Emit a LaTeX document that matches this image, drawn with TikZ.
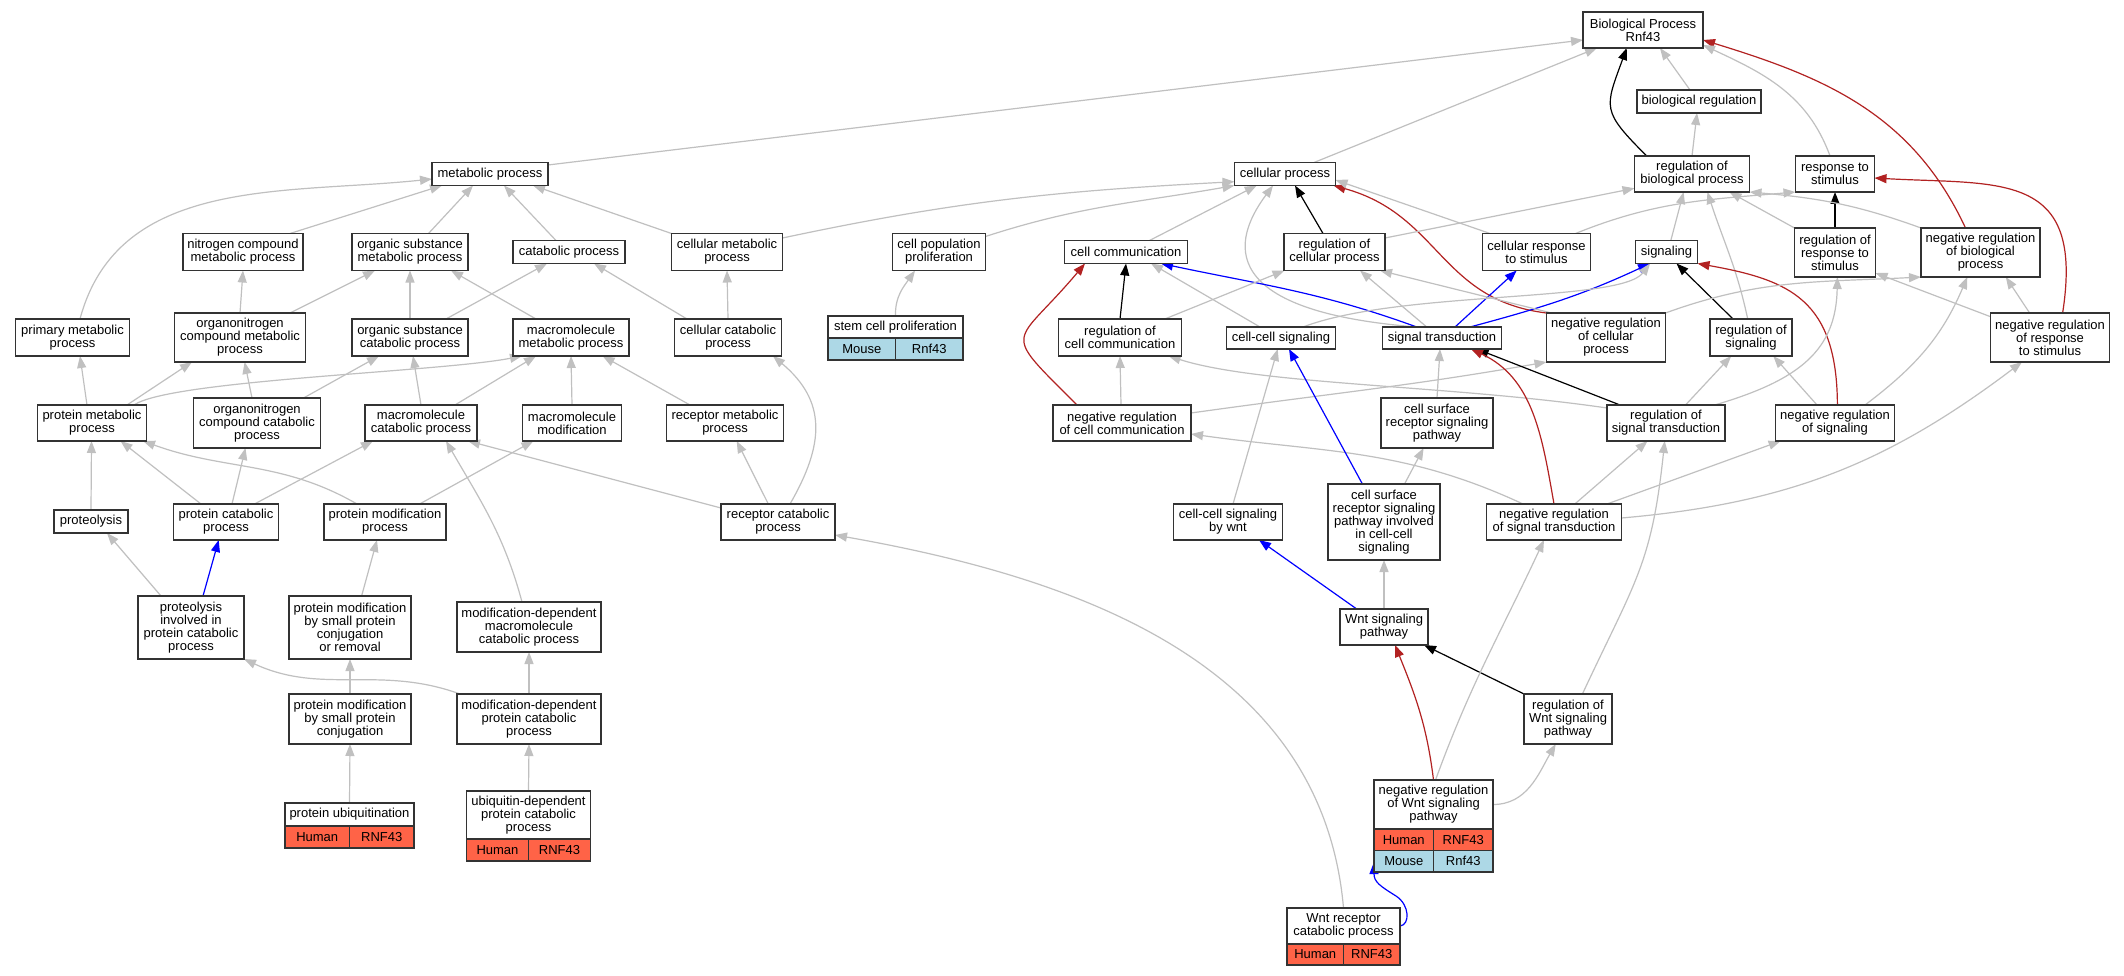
\documentclass[tikz,border=0pt]{standalone}
\usepackage{fontspec}
\setmainfont{Liberation Sans}
\usetikzlibrary{arrows.meta}
\definecolor{edgegray}{HTML}{C0C0C0}
\definecolor{firebrick}{HTML}{B22222}
\definecolor{tomatoc}{HTML}{FF6347}
\definecolor{lblue}{HTML}{ADD8E6}
\newcommand\gofont{\fontsize{13pt}{13pt}\selectfont}
\pgfdeclarelayer{bg}
\pgfsetlayers{bg,main}
\tikzset{
  box/.style={draw=black!80, line width=1.5pt, fill=white, inner sep=0pt, outer sep=0pt, align=center, font=\gofont},
  cellH/.style={box, fill=tomatoc},
  cellM/.style={box, fill=lblue},
  lnk/.style={line width=1.2pt, -{Triangle[length=12pt,width=9pt]}},
  isa/.style={lnk, draw=edgegray},
  po/.style={lnk, draw=blue},
  rg/.style={lnk, draw=black},
  nr/.style={lnk, draw=firebrick},
}
\begin{document}
\begin{tikzpicture}[x=1pt,y=1pt]
\useasboundingbox (0,0) rectangle (2124,-976);
% ---------- nodes ----------
\node[box,minimum width=120pt,minimum height=36pt] (BP) at (1643,-30) {Biological Process\\Rnf43};
\node[box,minimum width=124pt,minimum height=23pt] (breg) at (1699,-101.5) {biological regulation};
\node[box,minimum width=116pt,minimum height=23pt] (MP) at (490,-174) {metabolic process};
\node[box,minimum width=101pt,minimum height=23pt] (CP) at (1285,-174) {cellular process};
\node[box,minimum width=115pt,minimum height=36pt] (rbp) at (1692,-174) {regulation of\\biological process};
\node[box,minimum width=79pt,minimum height=36pt] (rs) at (1835,-174) {response to\\stimulus};
\node[box,minimum width=120pt,minimum height=37pt] (ncmp) at (243,-252) {nitrogen compound\\metabolic process};
\node[box,minimum width=116pt,minimum height=37pt] (osmp) at (410,-252) {organic substance\\metabolic process};
\node[box,minimum width=112pt,minimum height=23pt] (catp) at (569,-252) {catabolic process};
\node[box,minimum width=111pt,minimum height=37pt] (cmp) at (727,-252) {cellular metabolic\\process};
\node[box,minimum width=93pt,minimum height=37pt] (cpp) at (939,-252) {cell population\\proliferation};
\node[box,minimum width=123pt,minimum height=23pt] (cc) at (1126,-252) {cell communication};
\node[box,minimum width=101pt,minimum height=37pt] (rcp) at (1334.5,-252) {regulation of\\cellular process};
\node[box,minimum width=108pt,minimum height=37pt] (crs) at (1536.5,-252) {cellular response\\to stimulus};
\node[box,minimum width=62pt,minimum height=23pt] (sig) at (1666.5,-252) {signaling};
\node[box,minimum width=81pt,minimum height=49pt] (rrs) at (1835,-252.5) {regulation of\\response to\\stimulus};
\node[box,minimum width=119pt,minimum height=49pt] (nrbp) at (1980.5,-252.5) {negative regulation\\of biological\\process};
\node[box,minimum width=114pt,minimum height=37pt] (pmp) at (72.5,-337.5) {primary metabolic\\process};
\node[box,minimum width=131pt,minimum height=49pt] (oncmp) at (240,-337.5) {organonitrogen\\compound metabolic\\process};
\node[box,minimum width=116pt,minimum height=37pt] (oscp) at (410,-337.5) {organic substance\\catabolic process};
\node[box,minimum width=116pt,minimum height=37pt] (mmp) at (571,-337.5) {macromolecule\\metabolic process};
\node[box,minimum width=107pt,minimum height=37pt] (ccp) at (728,-337.5) {cellular catabolic\\process};
\node[box,minimum width=135pt,minimum height=22pt] (scp) at (895.5,-327) {stem cell proliferation};
\node[cellM,minimum width=67.5pt,minimum height=22pt,anchor=north east] (scpM) at (scp.south) {Mouse};
\node[cellM,minimum width=67.5pt,minimum height=22pt,anchor=north west] (scpN) at (scp.south) {Rnf43};
\node[box,minimum width=123pt,minimum height=37pt] (rcc) at (1120,-337.5) {regulation of\\cell communication};
\node[box,minimum width=109pt,minimum height=22pt] (ccs) at (1281,-338) {cell-cell signaling};
\node[box,minimum width=119pt,minimum height=22pt] (st) at (1442,-338) {signal transduction};
\node[box,minimum width=119pt,minimum height=49pt] (nrcp) at (1606,-337.5) {negative regulation\\of cellular\\process};
\node[box,minimum width=82pt,minimum height=37pt] (rsig) at (1751,-337.5) {regulation of\\signaling};
\node[box,minimum width=119pt,minimum height=49pt] (nrrs) at (2050,-337.5) {negative regulation\\of response\\to stimulus};
\node[box,minimum width=109pt,minimum height=36pt] (prmp) at (92,-423) {protein metabolic\\process};
\node[box,minimum width=127pt,minimum height=50pt] (onccp) at (257,-423) {organonitrogen\\compound catabolic\\process};
\node[box,minimum width=112pt,minimum height=36pt] (mcp) at (421,-423) {macromolecule\\catabolic process};
\node[box,minimum width=99pt,minimum height=36pt] (mmod) at (572,-423) {macromolecule\\modification};
\node[box,minimum width=117pt,minimum height=36pt] (rmp) at (725,-423) {receptor metabolic\\process};
\node[box,minimum width=138pt,minimum height=36pt] (nrcc) at (1122,-423) {negative regulation\\of cell communication};
\node[box,minimum width=112pt,minimum height=50pt] (csrsp) at (1437,-423) {cell surface\\receptor signaling\\pathway};
\node[box,minimum width=118pt,minimum height=36pt] (rst) at (1666,-423) {regulation of\\signal transduction};
\node[box,minimum width=119pt,minimum height=36pt] (nrsig) at (1835,-423) {negative regulation\\of signaling};
\node[box,minimum width=74pt,minimum height=23pt] (prot) at (91,-521.5) {proteolysis};
\node[box,minimum width=105pt,minimum height=36pt] (pcp) at (226,-522) {protein catabolic\\process};
\node[box,minimum width=122pt,minimum height=36pt] (pmod) at (385,-522) {protein modification\\process};
\node[box,minimum width=114pt,minimum height=36pt] (rcatp) at (778,-522) {receptor catabolic\\process};
\node[box,minimum width=109pt,minimum height=36pt] (ccsw) at (1228,-522) {cell-cell signaling\\by wnt};
\node[box,minimum width=112pt,minimum height=76pt] (csrspcc) at (1384,-522) {cell surface\\receptor signaling\\pathway involved\\in cell-cell\\signaling};
\node[box,minimum width=135pt,minimum height=36pt] (nrst) at (1554,-522) {negative regulation\\of signal transduction};
\node[box,minimum width=106pt,minimum height=63pt] (picp) at (191,-627.5) {proteolysis\\involved in\\protein catabolic\\process};
\node[box,minimum width=122pt,minimum height=63pt] (pmsr) at (350,-627.5) {protein modification\\by small protein\\conjugation\\or removal};
\node[box,minimum width=144pt,minimum height=50pt] (mdmcp) at (529,-627) {modification-dependent\\macromolecule\\catabolic process};
\node[box,minimum width=88pt,minimum height=36pt] (wsp) at (1384,-627) {Wnt signaling\\pathway};
\node[box,minimum width=122pt,minimum height=50pt] (pmsc) at (350,-719) {protein modification\\by small protein\\conjugation};
\node[box,minimum width=144pt,minimum height=50pt] (mdpcp) at (529,-719) {modification-dependent\\protein catabolic\\process};
\node[box,minimum width=88pt,minimum height=50pt] (rwsp) at (1568,-719) {regulation of\\Wnt signaling\\pathway};
% tables
\node[box,minimum width=129pt,minimum height=23pt] (pubi) at (349.5,-814.5) {protein ubiquitination};
\node[cellH,minimum width=64.5pt,minimum height=22pt,anchor=north east] (pubiH) at (pubi.south) {Human};
\node[cellH,minimum width=64.5pt,minimum height=22pt,anchor=north west] (pubiR) at (pubi.south) {RNF43};
\node[box,minimum width=124pt,minimum height=48pt] (udpcp) at (528.5,-815) {ubiquitin-dependent\\protein catabolic\\process};
\node[cellH,minimum width=62pt,minimum height=22pt,anchor=north east] (udpcpH) at (udpcp.south) {Human};
\node[cellH,minimum width=62pt,minimum height=22pt,anchor=north west] (udpcpR) at (udpcp.south) {RNF43};
\node[box,minimum width=119pt,minimum height=49pt] (nrwsp) at (1433.5,-804.5) {negative regulation\\of Wnt signaling\\pathway};
\node[cellH,minimum width=59.5pt,minimum height=21.5pt,anchor=north east] (nrwspH) at (nrwsp.south) {Human};
\node[cellH,minimum width=59.5pt,minimum height=21.5pt,anchor=north west] (nrwspR) at (nrwsp.south) {RNF43};
\node[cellM,minimum width=59.5pt,minimum height=21.5pt,anchor=north east] (nrwspM) at (nrwspH.south east) {Mouse};
\node[cellM,minimum width=59.5pt,minimum height=21.5pt,anchor=north west] (nrwspN) at (nrwspR.south west) {Rnf43};
\node[box,minimum width=113pt,minimum height=36pt] (wrcp) at (1343.5,-926) {Wnt receptor\\catabolic process};
\node[cellH,minimum width=56.5pt,minimum height=21pt,anchor=north east] (wrcpH) at (wrcp.south) {Human};
\node[cellH,minimum width=56.5pt,minimum height=21pt,anchor=north west] (wrcpR) at (wrcp.south) {RNF43};
% ---------- edges ----------
\begin{pgfonlayer}{bg}
\fill[white] (0,0) rectangle (2124,-976);
% left part
\draw[isa] ([xshift=7.5pt]pmp.north) to[out=75,in=186] ([yshift=-5pt]MP.west);
\draw[isa] ([xshift=47pt]ncmp.north) -- ([xshift=-48pt]MP.south);
\draw[isa] ([xshift=18.5pt]osmp.north) -- ([xshift=-17pt]MP.south);
\draw[isa] ([xshift=-13pt]catp.north) -- ([xshift=14pt]MP.south);
\draw[isa] (cmp.north west) -- ([xshift=43pt]MP.south);
\draw[isa] (oncmp.north) -- (ncmp.south);
\draw[isa] ([xshift=50pt]oncmp.north) -- ([xshift=-35pt]osmp.south);
\draw[isa] (oscp.north) -- (osmp.south);
\draw[isa] ([xshift=36pt]oscp.north) -- ([xshift=-22pt]catp.south);
\draw[isa] ([xshift=-35pt]mmp.north) -- ([xshift=41pt]osmp.south);
\draw[isa] ([xshift=-41pt]ccp.north) -- ([xshift=25pt]catp.south);
\draw[isa] ([xshift=-5pt]prmp.north) -- ([xshift=7.5pt]pmp.south);
\draw[isa] ([xshift=35pt]prmp.north) -- ([xshift=-48pt]oncmp.south);
\draw[isa] ([xshift=42pt]prmp.north) .. controls (170,-380) and (440,-372) .. ([xshift=-49pt]mmp.south);
\draw[isa] ([xshift=-5pt]onccp.north) -- ([xshift=4.6pt]oncmp.south);
\draw[isa] ([xshift=46.5pt]onccp.north) -- ([xshift=-31pt]oscp.south);
\draw[isa] (mcp.north) -- ([xshift=3pt]oscp.south);
\draw[isa] ([xshift=34pt]mcp.north) -- ([xshift=-35pt]mmp.south);
\draw[isa] (mmod.north) -- (mmp.south);
\draw[isa] ([xshift=-35pt]rmp.north) -- ([xshift=31.6pt]mmp.south);
\draw[isa] (ccp.north) -- (cmp.south);
\draw[isa] ([yshift=14pt]cmp.east) to[out=12,in=183] ([yshift=-7.7pt]CP.west);
\draw[isa] ([yshift=-3pt]cpp.north east) to[out=18,in=190] (CP.south west);
\draw[isa] (scp.north) to[out=92,in=-125] ([xshift=-24pt]cpp.south);
\draw[isa] ([xshift=12pt]rcatp.north) to[out=60,in=-40,looseness=1.2] ([xshift=45pt]ccp.south);
\draw[isa] ([xshift=-9.7pt]rcatp.north) -- ([xshift=11.7pt]rmp.south);
\draw[isa] ([yshift=14pt]rcatp.west) -- ([xshift=47pt]mcp.south);
\draw[isa] (prot.north) -- ([xshift=-0.5pt]prmp.south);
\draw[isa] ([xshift=-25pt]pcp.north) -- ([xshift=28.5pt]prmp.south);
\draw[isa] ([xshift=6pt]pcp.north) -- ([xshift=-11.5pt]onccp.south);
\draw[isa] ([xshift=28.5pt]pcp.north) -- ([xshift=-48pt]mcp.south);
\draw[isa] ([xshift=-28pt]pmod.north) to[out=150,in=-20] ([xshift=51pt]prmp.south);
\draw[isa] ([xshift=34.6pt]pmod.north) -- ([xshift=-38.6pt]mmod.south);
\draw[isa] ([xshift=-30pt]picp.north) -- ([xshift=16pt]prot.south);
\draw[po] ([xshift=12pt]picp.north) -- ([xshift=-7.3pt]pcp.south);
\draw[isa] ([xshift=11.6pt]pmsr.north) -- ([xshift=-8pt]pmod.south);
\draw[isa] ([xshift=-7pt]mdmcp.north) to[out=105,in=-60] ([xshift=25pt]mcp.south);
\draw[isa] (pmsc.north) -- (pmsr.south);
\draw[isa] (mdpcp.north) -- (mdmcp.south);
\draw[isa] ([xshift=3pt]mdpcp.north west) to[out=160,in=-25] (picp.south east);
\draw[isa] (pubi.north) -- (pmsc.south);
\draw[isa] (udpcp.north) -- (mdpcp.south);
% right part
\draw[isa] ([xshift=23.5pt]cc.north) -- ([xshift=-28.3pt]CP.south);
\draw[rg] ([xshift=-11.5pt]rcp.north) -- ([xshift=10pt]CP.south);
\draw[nr] (nrcp.north west) .. controls (1440,-300) and (1440,-215) .. ([xshift=-2pt]CP.south east);
\draw[isa] ([xshift=-46.5pt]crs.north) -- ([yshift=-6pt]CP.east);
\draw[isa] ([yshift=14pt]rcp.east) -- ([yshift=-14.3pt]rbp.west);
\draw[isa] ([xshift=-25pt]st.north) .. controls (1200,-310) and (1240,-230) .. ([xshift=-12pt]CP.south);
\draw[isa] ([xshift=-15.3pt]st.north) -- ([xshift=25.5pt]rcp.south);
\draw[po] ([xshift=-25.3pt]st.north) to[out=160,in=-12] ([xshift=35pt]cc.south);
\draw[po] ([xshift=13pt]st.north) -- ([xshift=-19.8pt]crs.south);
\draw[po] ([xshift=28pt]st.north) to[out=15,in=205] ([xshift=-16.5pt]sig.south);
\draw[isa] ([xshift=22pt]ccs.north) .. controls (1400,-290) and (1620,-303) .. ([xshift=-16.5pt]sig.south);
\draw[isa] ([xshift=-21pt]ccs.north) -- ([xshift=25pt]cc.south);
\draw[rg] (rcc.north) -- (cc.south);
\draw[isa] ([xshift=44.8pt]rcc.north) -- ([xshift=-50pt]rcp.south);
\draw[nr] ([xshift=-45pt]nrcc.north) to[out=135,in=230,looseness=2] ([xshift=-41pt]cc.south);
\draw[isa] ([xshift=-1pt]nrcc.north) -- (rcc.south);
\draw[isa] ([yshift=10pt]nrcc.east) to[out=8,in=190] (nrcp.south west);
\draw[rg] ([xshift=-46pt]rst.north) -- ([xshift=34.7pt]st.south);
\draw[isa] ([yshift=15pt]rst.west) .. controls (1450,-385) and (1260,-385) .. ([xshift=48.6pt]rcc.south);
\draw[isa] ([xshift=-31pt]nrst.north) to[out=155,in=-8] ([yshift=-11pt]nrcc.east);
\draw[nr] (nrst.north) to[out=100,in=-25] ([xshift=29pt]st.south);
\draw[isa] ([xshift=20.8pt]nrst.north) -- ([xshift=-18.5pt]rst.south);
\draw[isa] ([xshift=53pt]nrst.north) -- ([xshift=-54.4pt]nrsig.south);
\draw[isa] ([yshift=4pt]nrst.east) to[out=5,in=-143] ([xshift=-28pt]nrrs.south);
\draw[isa] (csrsp.north) -- ([xshift=-2pt]st.south);
\draw[isa] ([xshift=20.5pt]csrspcc.north) -- ([xshift=-13.4pt]csrsp.south);
\draw[po] ([xshift=-21.6pt]csrspcc.north) -- ([xshift=8pt]ccs.south);
\draw[isa] ([xshift=5pt]ccsw.north) -- ([xshift=-3.3pt]ccs.south);
\draw[po] ([xshift=-27.3pt]wsp.north) -- ([xshift=31pt]ccsw.south);
\draw[isa] (wsp.north) -- (csrspcc.south);
\draw[rg] (rwsp.north west) -- ([xshift=40pt]wsp.south);
\draw[isa] ([xshift=14.4pt]rwsp.north) to[out=65,in=-96,looseness=1.2] ([xshift=-1.3pt]rst.south);
\draw[nr] (nrwsp.north) to[out=97,in=-68] ([xshift=11pt]wsp.south);
\draw[isa] ([xshift=2pt]nrwsp.north) to[out=70,in=-115] ([xshift=-10pt]nrst.south);
\draw[isa] (nrwsp.east) to[out=0,in=-120] ([xshift=-12.3pt]rwsp.south);
\draw[po] (wrcp.east) .. controls (1410,-925) and (1410,-905) .. (1396,-896) .. controls (1380,-886) and (1374,-882) .. ([yshift=10pt]nrwspM.south west);
\draw[isa] (wrcp.north) to[out=95,in=-10] ([yshift=-13pt]rcatp.east);
\draw[rg] ([xshift=-18pt]rsig.north) -- ([xshift=10pt]sig.south);
\draw[isa] ([xshift=-3.3pt]rsig.north) to[out=102,in=-72] ([xshift=15.4pt]rbp.south);
\draw[isa] ([xshift=4.3pt]sig.north) -- ([xshift=-8.4pt]rbp.south);
\draw[rg] (rrs.north) -- (rs.south);
\draw[isa] (rrs.north west) -- ([xshift=37.4pt]rbp.south);
\draw[isa] (nrbp.north west) to[out=160,in=-5] (rbp.south east);
\draw[nr] ([xshift=-15pt]nrbp.north) to[out=115,in=-17] ([yshift=-10pt]BP.east);
\draw[nr] ([xshift=12.6pt]nrrs.north) .. controls (2085,-170) and (2000,-185) .. ([yshift=-4pt]rs.east);
\draw[isa] ([yshift=20.8pt]nrrs.west) -- ([yshift=4pt]rrs.south east);
\draw[isa] ([xshift=-20.4pt]nrrs.north) -- ([xshift=25.3pt]nrbp.south);
\draw[nr] ([xshift=2.4pt]nrsig.north) .. controls (1837,-300) and (1790,-280) .. (sig.south east);
\draw[isa] ([xshift=-18pt]nrsig.north) -- ([xshift=22.3pt]rsig.south);
\draw[isa] ([xshift=30pt]nrsig.north) to[out=37,in=-113] ([xshift=-13.2pt]nrbp.south);
\draw[isa] ([xshift=19.5pt]rst.north) -- ([xshift=-19.8pt]rsig.south);
\draw[isa] ([xshift=48.7pt]rst.north) .. controls (1800,-380) and (1836,-350) .. ([xshift=2.4pt]rrs.south);
\draw[isa] (rbp.north) -- ([xshift=-2pt]breg.south);
\draw[rg] ([xshift=-45.3pt]rbp.north) to[out=135,in=-110,looseness=1.5] ([xshift=-16.3pt]BP.south);
\draw[isa] ([xshift=-9pt]breg.north) -- ([xshift=17pt]BP.south);
\draw[isa] ([xshift=-5pt]rs.north) to[out=110,in=-25] ([yshift=3pt]BP.south east);
\draw[isa] ([xshift=29pt]CP.north) -- ([xshift=-46pt]BP.south);
\draw[isa] ([yshift=9pt]MP.east) -- ([yshift=-10pt]BP.west);
\draw[isa] ([xshift=39pt]crs.north) to[out=22,in=185] (rs.south west);
\draw[isa] (nrcp.north east) to[out=20,in=183] (nrbp.south west);
\draw[isa] ([xshift=5pt]nrcp.north west) -- ([xshift=45.5pt]rcp.south);
\end{pgfonlayer}
\end{tikzpicture}
\end{document}
